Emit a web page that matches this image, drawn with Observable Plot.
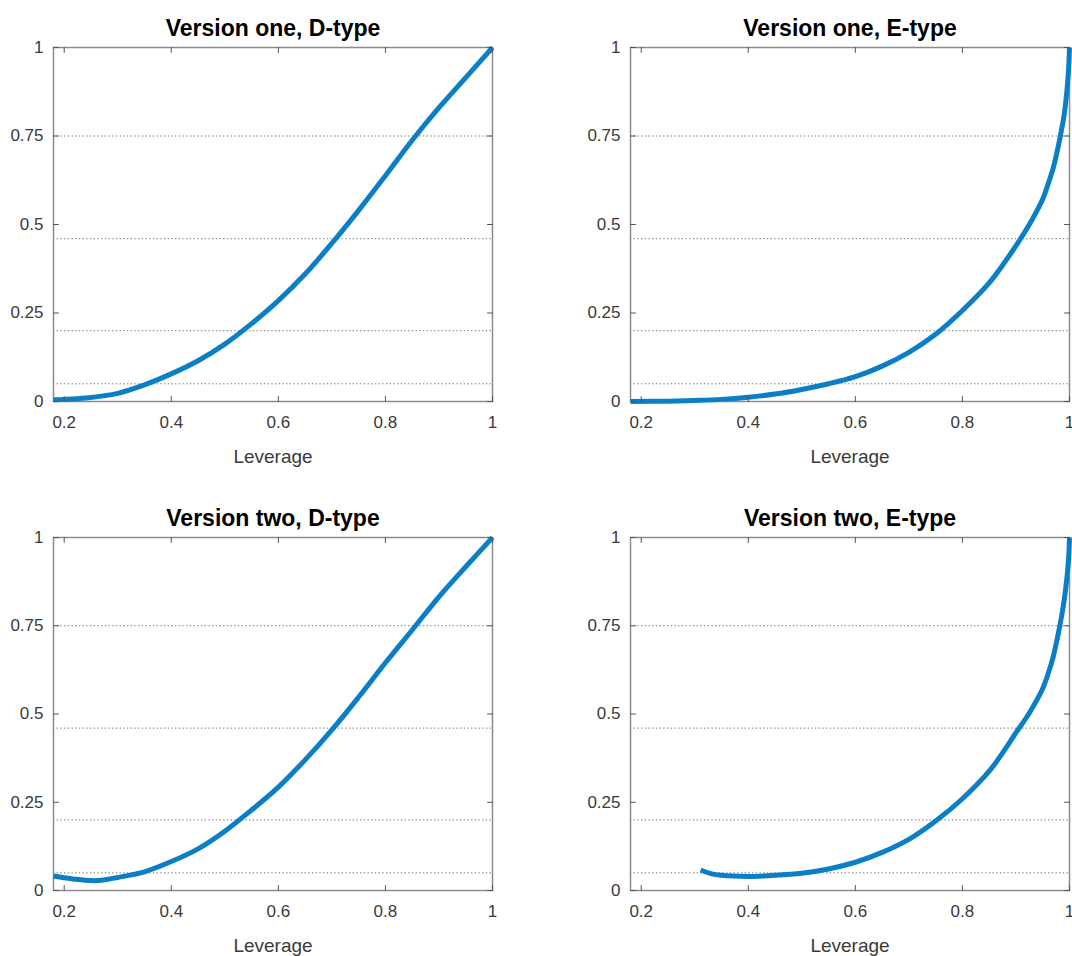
<!DOCTYPE html>
<html>
<head>
<meta charset="utf-8">
<script src="https://cdn.jsdelivr.net/npm/d3@7"></script>
<script src="https://cdn.jsdelivr.net/npm/@observablehq/plot@0.6"></script>
<style>
  html, body { margin: 0; padding: 0; background: #fff; }
  #wrap { position: relative; width: 1072px; height: 956px; overflow: hidden; background: #fff; }
  .panel { position: absolute; }
</style>
</head>
<body>
<div id="wrap"></div>
<script>
// ---- Data ----
const titles = ["Version one, D-type", "Version one, E-type", "Version two, D-type", "Version two, E-type"];
const xLabel = "Leverage";
const xTicks = [0.2, 0.4, 0.6, 0.8, 1];
const yTicks = [0, 0.25, 0.5, 0.75, 1];
const refLevels = [0.05, 0.2, 0.46, 0.75];

const lev1D = [0.18, 0.2, 0.24, 0.3, 0.35, 0.4, 0.45, 0.5, 0.55, 0.6, 0.65, 0.7, 0.75, 0.8, 0.85, 0.9, 0.95, 1.0];
const val1D = [0.005, 0.006, 0.01, 0.023, 0.047, 0.078, 0.115, 0.162, 0.22, 0.285, 0.36, 0.447, 0.54, 0.638, 0.738, 0.83, 0.915, 1.0];

const lev1E = [0.18, 0.25, 0.3, 0.35, 0.4, 0.45, 0.5, 0.55, 0.6, 0.65, 0.7, 0.75, 0.8, 0.85, 0.875, 0.9, 0.925, 0.95, 0.96, 0.97, 0.98, 0.985, 0.99, 0.994, 0.997, 0.999, 1.0];
const val1E = [0.0, 0.001, 0.003, 0.006, 0.012, 0.021, 0.034, 0.05, 0.07, 0.1, 0.139, 0.19, 0.257, 0.335, 0.385, 0.44, 0.5, 0.572, 0.614, 0.662, 0.728, 0.767, 0.81, 0.86, 0.91, 0.96, 1.0];

const lev2D = [0.18, 0.2, 0.22, 0.25, 0.27, 0.3, 0.35, 0.4, 0.45, 0.5, 0.55, 0.6, 0.65, 0.7, 0.75, 0.8, 0.85, 0.9, 0.95, 1.0];
const val2D = [0.041, 0.036, 0.032, 0.028, 0.029, 0.037, 0.053, 0.082, 0.118, 0.168, 0.228, 0.293, 0.37, 0.455, 0.548, 0.645, 0.738, 0.832, 0.917, 1.0];

const lev2E = [0.311, 0.33, 0.35, 0.4, 0.45, 0.5, 0.55, 0.6, 0.65, 0.7, 0.75, 0.8, 0.85, 0.875, 0.9, 0.925, 0.95, 0.96, 0.97, 0.98, 0.985, 0.99, 0.994, 0.997, 0.999, 1.0];
const val2E = [0.058, 0.048, 0.043, 0.040, 0.043, 0.049, 0.061, 0.08, 0.108, 0.145, 0.197, 0.26, 0.338, 0.39, 0.447, 0.503, 0.572, 0.614, 0.665, 0.735, 0.775, 0.822, 0.87, 0.915, 0.96, 1.0];

// ---- Layout ----
const FONT = "'Liberation Sans', Arial, Helvetica, sans-serif";
const LINE_COLOR = "#0a7fc6";
const tickShape = { draw(context, l) { context.moveTo(0, 0); context.lineTo(0, -l); } };
const fmt = d => String(d);

const panels = [
  { title: titles[0], lev: lev1D, val: val1D, left: 0,   top: 0,   width: 536, height: 480, ml: 53, mr: 44, mb: 79 },
  { title: titles[1], lev: lev1E, val: val1E, left: 560, top: 0,   width: 512, height: 480, ml: 70, mr: 3,  mb: 79 },
  { title: titles[2], lev: lev2D, val: val2D, left: 0,   top: 490, width: 536, height: 466, ml: 53, mr: 44, mb: 66 },
  { title: titles[3], lev: lev2E, val: val2E, left: 560, top: 490, width: 512, height: 466, ml: 70, mr: 3,  mb: 66 }
];

const wrap = document.getElementById("wrap");
for (const p of panels) {
  const chart = Plot.plot({
    width: p.width,
    height: p.height,
    marginLeft: p.ml,
    marginRight: p.mr,
    marginTop: 47,
    marginBottom: p.mb,
    style: { fontFamily: FONT, fontSize: "17px", color: "#3a3a3a", background: "white", overflow: "visible" },
    x: { domain: [0.18, 1] },
    y: { domain: [0, 1] },
    marks: [
      Plot.ruleY(refLevels, { y: d => d, stroke: "#6e6e6e", strokeWidth: 1, strokeDasharray: "1.3,2.4" }),
      Plot.frame({ stroke: "#8c8c8c", strokeWidth: 1.5 }),
      Plot.line({ length: p.lev.length }, { x: p.lev, y: p.val, stroke: LINE_COLOR, strokeWidth: 5, curve: "catmull-rom", strokeLinejoin: "round", strokeLinecap: "butt" }),
      Plot.vector(xTicks, { x: d => d, frameAnchor: "bottom", length: 5, rotate: 0, anchor: "start", shape: tickShape, stroke: "#555", strokeWidth: 1 }),
      Plot.vector(xTicks, { x: d => d, frameAnchor: "top", length: 5, rotate: 180, anchor: "start", shape: tickShape, stroke: "#555", strokeWidth: 1 }),
      Plot.vector(yTicks, { y: d => d, frameAnchor: "left", length: 5, rotate: 90, anchor: "start", shape: tickShape, stroke: "#555", strokeWidth: 1 }),
      Plot.vector(yTicks, { y: d => d, frameAnchor: "right", length: 5, rotate: -90, anchor: "start", shape: tickShape, stroke: "#555", strokeWidth: 1 }),
      Plot.axisX(xTicks, { tickSize: 0, tickPadding: 14, label: null, fontSize: 17, tickFormat: fmt }),
      Plot.axisY(yTicks, { tickSize: 0, tickPadding: 10, label: null, fontSize: 17, tickFormat: fmt }),
      Plot.text([p.title], { text: d => d, frameAnchor: "top", lineAnchor: "middle", dy: -19, fontSize: 23, fontWeight: "bold", fill: "black" }),
      Plot.text([xLabel], { text: d => d, frameAnchor: "bottom", lineAnchor: "middle", dy: 55, fontSize: 19, fill: "#3a3a3a" })
    ]
  });
  const div = document.createElement("div");
  div.className = "panel";
  div.style.left = p.left + "px";
  div.style.top = p.top + "px";
  div.appendChild(chart);
  wrap.appendChild(div);
}
</script>
</body>
</html>
